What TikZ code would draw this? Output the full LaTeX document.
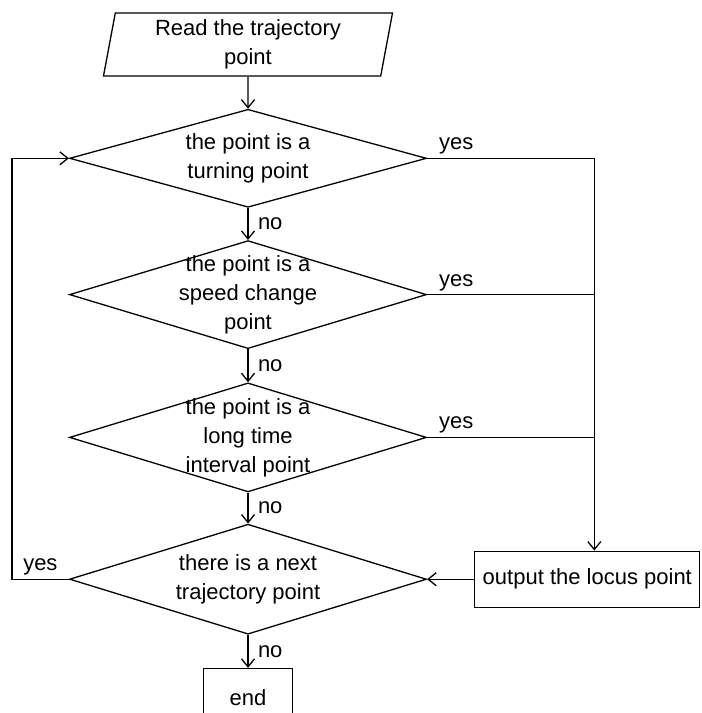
\documentclass[tikz,border=0pt]{standalone}
\usepackage{fontspec}
\setmainfont{Liberation Sans}
\usetikzlibrary{positioning,shapes.geometric,arrows.meta}

\begin{document}
\begin{tikzpicture}[
    x=1pt, y=-1pt,
    node distance=32pt,
    line width=1.3pt,
    every node/.style={font=\fontsize{22}{29}\selectfont},
    io/.style={draw, trapezium, trapezium left angle=76.6, trapezium right angle=103.4,
               trapezium stretches body, minimum width=289pt, minimum height=63pt,
               align=center, inner sep=0pt},
    decision/.style={draw, diamond, minimum width=357pt, minimum height=108pt, inner sep=0pt},
    dtext/.style={align=center},
    box/.style={draw, rectangle, minimum height=56pt, align=center},
    arr/.style={-{Straight Barb[length=8pt,width=13pt]}},
    nolbl/.style={right, midway, xshift=6pt},
    yeslbl/.style={above right, pos=0, xshift=8pt}
]
    \useasboundingbox (0,0) rectangle (702,713);

    \node[io] (read) at (248,44.5) {Read the trajectory\\point};
    \node[decision, minimum height=98pt, below=of read,
          label={[dtext]center:the point is a\\turning point}] (turn) {};
    \node[decision, below=of turn,
          label={[dtext]center:the point is a\\speed change\\point}] (speed) {};
    \node[decision, minimum height=109pt, below=33pt of speed,
          label={[dtext]center:the point is a\\long time\\interval point}] (long) {};
    \node[decision, minimum height=110pt, below=31pt of long,
          label={[dtext]center:there is a next\\trajectory point}] (next) {};

    \node[box, minimum width=225pt, right=47pt of next] (out) {output the locus point};
    \node[box, minimum width=89pt, minimum height=58pt, below=33pt of next] (end) {end};

    \coordinate (bus) at ([xshift=7pt]out.north);

    \draw[arr] (read) -- (turn);
    \draw[arr] (turn) -- node[nolbl]{no} (speed);
    \draw[arr] (speed) -- node[nolbl]{no} (long);
    \draw[arr] (long) -- node[nolbl]{no} (next);
    \draw[arr] (next) -- node[nolbl]{no} (end);

    \draw[arr] (turn.east) -- node[yeslbl]{yes} (turn.east -| bus) -- (bus);
    \draw (speed.east) -- node[yeslbl]{yes} (speed.east -| bus);
    \draw (long.east) -- node[yeslbl]{yes} (long.east -| bus);
    \draw[arr] (out) -- (next);
    \draw[arr] (next.west) -- node[midway, above]{yes} ++(-57,0) |- (turn.west);
\end{tikzpicture}
\end{document}
